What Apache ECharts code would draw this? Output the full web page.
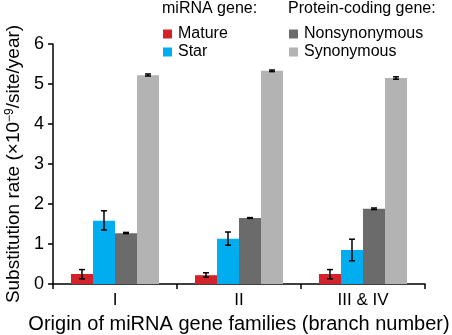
<!DOCTYPE html>
<html>
<head>
<meta charset="utf-8">
<script src="https://cdn.jsdelivr.net/npm/echarts@6/dist/echarts.min.js"></script>
<style>
  html, body { margin: 0; padding: 0; background: #fff; }
  #chart { width: 452px; height: 335px; }
</style>
</head>
<body>
<div id="chart"></div>
<script>
  // categories and values
  var categories = ['I', 'II', 'III & IV'];
  var seriesNames = ['Mature', 'Star', 'Nonsynonymous', 'Synonymous'];
  var colors = ['#d2232a', '#00aeef', '#6b6b6b', '#b3b3b3'];
  var mature = [0.25, 0.22, 0.25];
  var star = [1.58, 1.13, 0.85];
  var nonsyn = [1.27, 1.65, 1.88];
  var syn = [5.22, 5.33, 5.15];
  // error bar ranges [low, high]
  var matureErr = [[0.13, 0.36], [0.17, 0.28], [0.13, 0.36]];
  var starErr = [[1.35, 1.83], [0.97, 1.30], [0.58, 1.12]];
  var nonsynErr = [[1.26, 1.29], [1.64, 1.66], [1.86, 1.90]];
  var synErr = [[5.20, 5.25], [5.31, 5.35], [5.12, 5.18]];

  var values = [mature, star, nonsyn, syn];
  var errs = [matureErr, starErr, nonsynErr, synErr];
  var catGap = 0.29;

  var chart = echarts.init(document.getElementById('chart'));
  var font = 'Liberation Sans, Arial, sans-serif';

  var series = [];
  seriesNames.forEach(function (name, i) {
    series.push({
      name: name,
      type: 'bar',
      barGap: '0%',
      barCategoryGap: (catGap * 100) + '%',
      itemStyle: { color: colors[i] },
      data: values[i],
      z: 2
    });
  });
  // error bars, offset to sit on each bar
  errs.forEach(function (err, i) {
    series.push({
      type: 'custom',
      name: seriesNames[i] + ' err',
      data: err.map(function (e, j) { return [j, e[0], e[1]]; }),
      z: 5,
      renderItem: function (params, api) {
        var bandW = api.size([1, 0])[0];
        var bw = bandW * (1 - catGap) / 4;
        var off = (i - 1.5) * bw;
        var lo = api.coord([api.value(0), api.value(1)]);
        var hi = api.coord([api.value(0), api.value(2)]);
        var x = lo[0] + off;
        var cap = 3;
        var st = { stroke: '#000', lineWidth: 1.5 };
        return {
          type: 'group',
          children: [
            { type: 'line', shape: { x1: x, y1: lo[1], x2: x, y2: hi[1] }, style: st },
            { type: 'line', shape: { x1: x - cap, y1: lo[1], x2: x + cap, y2: lo[1] }, style: st },
            { type: 'line', shape: { x1: x - cap, y1: hi[1], x2: x + cap, y2: hi[1] }, style: st }
          ]
        };
      }
    });
  });

  chart.setOption({
    animation: false,
    textStyle: { fontFamily: font },
    grid: { left: 53, right: 27, top: 44, bottom: 51, outerBoundsMode: 'none', containLabel: false },
    graphic: [
      { type: 'text', left: 162, top: 1, style: { text: 'miRNA gene:', font: '16px ' + font, fill: '#000' } },
      { type: 'text', left: 288, top: 1, style: { text: 'Protein-coding gene:', font: '16px ' + font, fill: '#000' } }
    ],
    legend: [
      {
        data: ['Mature', 'Star'],
        orient: 'vertical',
        left: 158, top: 21,
        itemWidth: 9, itemHeight: 9, itemGap: 2, icon: 'rect',
        textStyle: { fontSize: 16, color: '#000', fontFamily: font, padding: [0, 0, 0, 1] }
      },
      {
        data: ['Nonsynonymous', 'Synonymous'],
        orient: 'vertical',
        left: 284, top: 21,
        itemWidth: 9, itemHeight: 9, itemGap: 2, icon: 'rect',
        textStyle: { fontSize: 16, color: '#000', fontFamily: font, padding: [0, 0, 0, 1] }
      }
    ],
    xAxis: {
      type: 'category',
      data: categories,
      axisLine: { lineStyle: { color: '#000', width: 1.5 } },
      axisTick: { show: true, length: 5, lineStyle: { color: '#000', width: 1.5 } },
      axisLabel: { fontSize: 17, color: '#000', margin: 8 },
      name: 'Origin of miRNA gene families (branch number)',
      nameLocation: 'middle',
      nameGap: 30,
      nameTextStyle: { fontSize: 20, color: '#000' }
    },
    yAxis: {
      type: 'value',
      min: 0, max: 6, interval: 1,
      splitLine: { show: false },
      axisLine: { show: true, lineStyle: { color: '#000', width: 1.5 } },
      axisTick: { show: true, length: 5, lineStyle: { color: '#000', width: 1.5 } },
      axisLabel: { fontSize: 18, color: '#000', margin: 9 },
      name: '{a|Substitution rate (×10}{s|−9}{a|/site/year)}',
      nameLocation: 'middle',
      nameGap: 28,
      nameTextStyle: {
        rich: {
          a: { fontSize: 19, color: '#000', fontFamily: font },
          s: { fontSize: 12, color: '#000', fontFamily: font, verticalAlign: 'top', padding: [0, 0, 8, 0] }
        }
      }
    },
    series: series
  });
</script>
</body>
</html>
